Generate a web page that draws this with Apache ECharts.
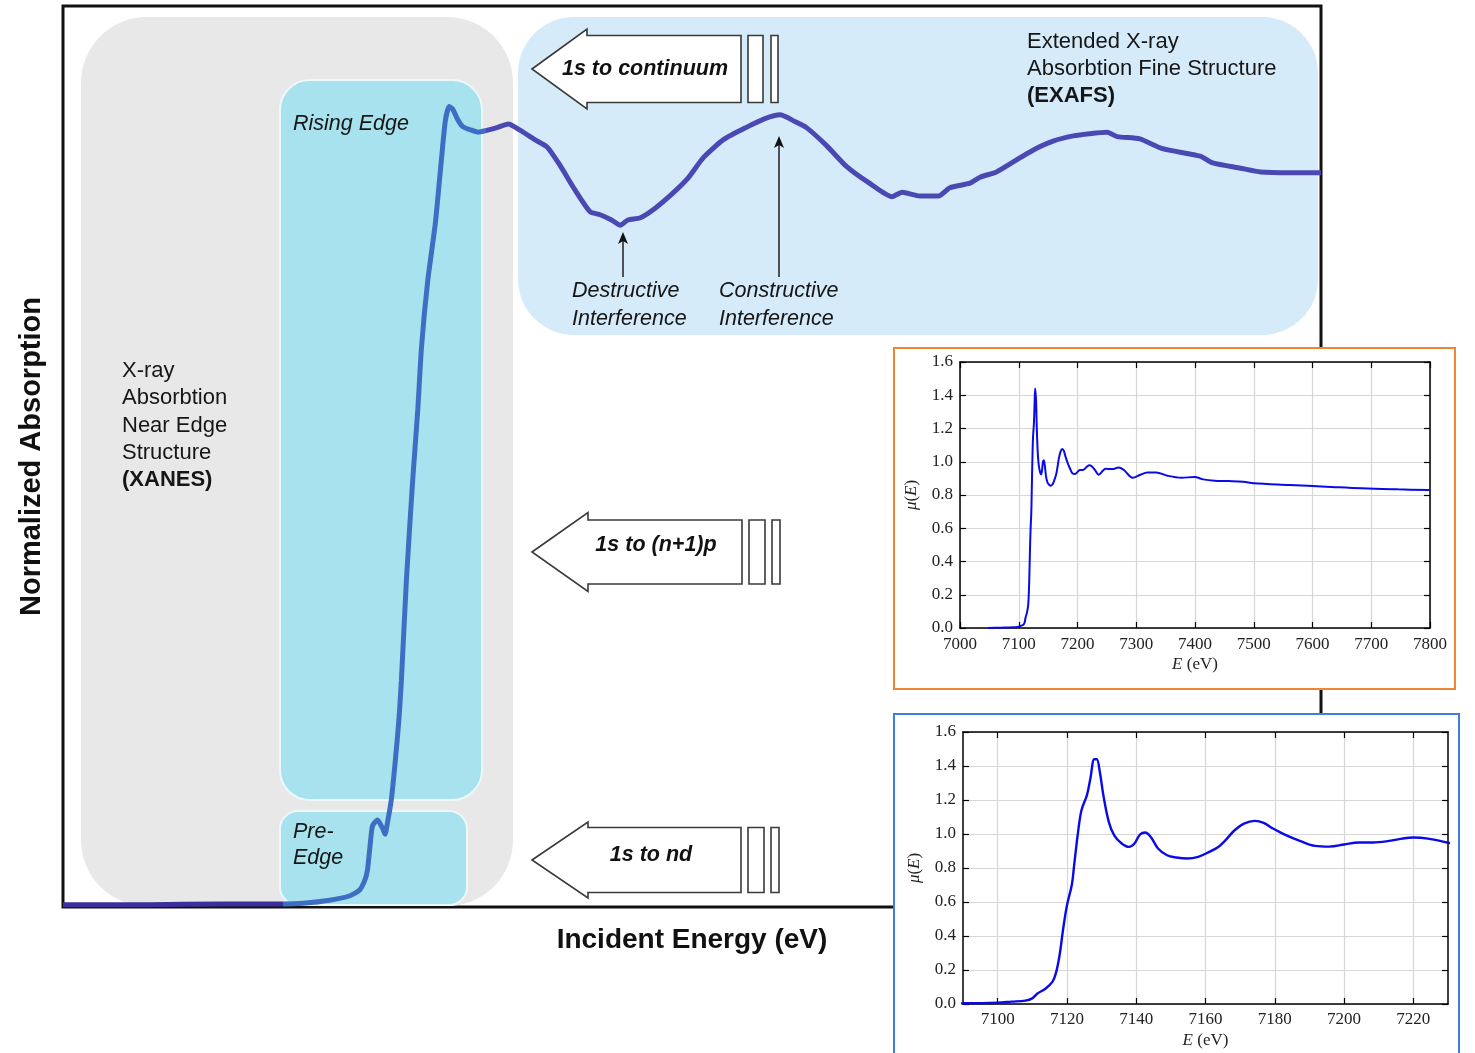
<!DOCTYPE html>
<html>
<head>
<meta charset="utf-8">
<title>X-ray Absorption Spectrum</title>
<script src="https://cdn.jsdelivr.net/npm/echarts@6/dist/echarts.min.js"></script>
<style>
  html, body { margin: 0; padding: 0; background: #ffffff; }
  #chart { width: 1475px; height: 1053px; }
</style>
</head>
<body>
<div id="chart"></div>
<script>
// ---- Schematic absorption curve (relative energy 0..100, normalized absorption) ----
const mainEnergy = [0, 6.9, 12.5, 17.5, 19.1, 21.2, 22.8, 23.6, 24.0, 24.2, 24.4, 24.6, 25.0, 25.4, 25.6, 25.8,
  26.1, 26.4, 26.7, 26.9, 27.3, 27.8, 28.2, 28.5, 29.0, 29.6, 30.1, 30.4, 30.7, 31.0, 31.4, 31.8, 32.4, 33.0,
  33.6, 34.5, 35.4, 36.3, 37.5, 38.5, 39.5, 40.7, 41.9, 42.7, 43.6, 44.3, 44.9, 45.9, 47.1, 48.5, 49.7, 50.9,
  52.5, 54.4, 55.8, 57.0, 58.2, 59.1, 60.7, 62.3, 64.1, 65.9, 66.7, 68.1, 69.6, 70.5, 72.1, 72.9, 74.2, 75.5,
  77.1, 78.7, 80.3, 81.6, 83.0, 83.8, 85.6, 87.4, 90.4, 91.4, 93.6, 95.2, 97.5, 100];
const mainAbsorption = [0.003, 0.003, 0.004, 0.004, 0.005, 0.009, 0.015, 0.023, 0.036, 0.049, 0.080, 0.108,
  0.116, 0.105, 0.097, 0.113, 0.143, 0.192, 0.249, 0.302, 0.436, 0.569, 0.662, 0.746, 0.835, 0.911, 0.999,
  1.048, 1.066, 1.062, 1.048, 1.039, 1.035, 1.032, 1.034, 1.038, 1.043, 1.035, 1.022, 1.012, 0.988, 0.955,
  0.926, 0.922, 0.915, 0.908, 0.915, 0.918, 0.931, 0.951, 0.971, 0.998, 1.022, 1.039, 1.050, 1.055, 1.046,
  1.038, 1.014, 0.986, 0.964, 0.946, 0.952, 0.947, 0.947, 0.958, 0.964, 0.972, 0.979, 0.992, 1.008, 1.020,
  1.027, 1.030, 1.032, 1.026, 1.023, 1.010, 1.000, 0.991, 0.984, 0.979, 0.978, 0.978];

// ---- Measured Fe K-edge spectrum, E (eV) and mu(E) ----
const specEnergy = [7047, 7070, 7090, 7100, 7104, 7108, 7110, 7111.6, 7113.7, 7115.8, 7116.8, 7117.9, 7118.9,
  7120, 7121.4, 7122.1, 7123.2, 7124.2, 7125.8, 7126.8, 7127.9, 7128.6, 7129.5, 7130.5, 7132.1, 7133.7,
  7135.8, 7137.9, 7139.5, 7141.1, 7142.6, 7144.2, 7146.3, 7148.9, 7151.6, 7154.7, 7157.9, 7161.1, 7163.7,
  7165.8, 7168.4, 7171.1, 7174.2, 7176.8, 7179.5, 7183.2, 7187.4, 7191.6, 7195.8, 7200, 7204.2, 7208.4,
  7212.6, 7216.8, 7220, 7224.2, 7229.8, 7236, 7248, 7261, 7270, 7279, 7294, 7307, 7319, 7334, 7353, 7377,
  7399, 7414, 7433, 7457, 7482, 7500, 7561, 7623, 7684, 7745, 7800];
const specMu = [0.0, 0.002, 0.004, 0.008, 0.014, 0.020, 0.033, 0.063, 0.088, 0.130, 0.180, 0.290, 0.440,
  0.580, 0.700, 0.820, 1.010, 1.140, 1.230, 1.330, 1.440, 1.440, 1.365, 1.230, 1.070, 0.990, 0.944, 0.924,
  0.944, 0.997, 1.009, 0.983, 0.915, 0.875, 0.862, 0.856, 0.866, 0.895, 0.924, 0.964, 1.022, 1.061, 1.077,
  1.065, 1.032, 0.993, 0.958, 0.930, 0.926, 0.938, 0.950, 0.950, 0.958, 0.973, 0.979, 0.973, 0.950, 0.922,
  0.958, 0.956, 0.966, 0.950, 0.904, 0.922, 0.936, 0.936, 0.916, 0.904, 0.908, 0.894, 0.886, 0.884, 0.880,
  0.870, 0.860, 0.850, 0.840, 0.834, 0.830];

// ---- Tick values ----
const edgeTicks = [7100, 7120, 7140, 7160, 7180, 7200, 7220];

const SANS = '"Liberation Sans", Arial, Helvetica, sans-serif';
const SERIF = '"Liberation Serif", "DejaVu Serif", "Times New Roman", serif';

const chart = echarts.init(document.getElementById('chart'), null, { renderer: 'canvas' });

const mainCurve = mainEnergy.map((x, i) => [x, mainAbsorption[i]]);
const spectrum = specEnergy.map((e, i) => [e, specMu[i]]);

// ---- Decorations: region panels, labels and transition arrows ----
function label(x, y, text, font, align) {
  return { type: 'text', z: 5, style: { x, y, text, font, fill: '#161616', textAlign: align || 'left', textVerticalAlign: 'middle' } };
}
function blockArrow(tipX, tipY, headX, headHalf, shaftHalf, right, r1, r2, text, textX, textY) {
  const stroke = '#3a3a3a';
  return [
    { type: 'polygon', z: 4, shape: { points: [[tipX, tipY], [headX, tipY - headHalf], [headX, tipY - shaftHalf],
        [right, tipY - shaftHalf], [right, tipY + shaftHalf], [headX, tipY + shaftHalf], [headX, tipY + headHalf]] },
      style: { fill: '#ffffff', stroke, lineWidth: 1.6 } },
    { type: 'rect', z: 4, shape: { x: r1[0], y: tipY - shaftHalf, width: r1[1] - r1[0], height: shaftHalf * 2 },
      style: { fill: '#ffffff', stroke, lineWidth: 1.6 } },
    { type: 'rect', z: 4, shape: { x: r2[0], y: tipY - shaftHalf, width: r2[1] - r2[0], height: shaftHalf * 2 },
      style: { fill: '#ffffff', stroke, lineWidth: 1.6 } },
    { type: 'text', z: 5, style: { x: textX, y: textY, text, font: 'italic bold 21.5px ' + SANS, fill: '#111',
        textAlign: 'center', textVerticalAlign: 'middle' } }
  ];
}
function pointer(x, yTail, yTip) {
  return [
    { type: 'line', z: 4, shape: { x1: x, y1: yTail, x2: x, y2: yTip + 8 }, style: { stroke: '#111', lineWidth: 1.4 } },
    { type: 'polygon', z: 4, shape: { points: [[x - 5, yTip + 12], [x, yTip], [x + 5, yTip + 12], [x, yTip + 9]] },
      style: { fill: '#111' } }
  ];
}

const italic = 'italic 21.5px ' + SANS;
const plain = '22px ' + SANS;
const bold = 'bold 22px ' + SANS;

const graphics = [
  // region panels
  { type: 'rect', z: 1, shape: { x: 81, y: 17, width: 432, height: 889, r: 66 }, style: { fill: '#e8e8e8' } },
  { type: 'rect', z: 1, shape: { x: 518, y: 17, width: 800, height: 318, r: 56 }, style: { fill: '#d5ebf9' } },
  { type: 'rect', z: 1, shape: { x: 280, y: 80, width: 202, height: 720, r: 30 },
    style: { fill: '#a7e2ee', stroke: '#eef8fb', lineWidth: 2 } },
  { type: 'rect', z: 1, shape: { x: 280, y: 811, width: 187, height: 94, r: 18 },
    style: { fill: '#a7e2ee', stroke: '#eef8fb', lineWidth: 2 } },
  // region labels
  label(122, 371, 'X-ray', plain), label(122, 398, 'Absorbtion', plain), label(122, 426, 'Near Edge', plain),
  label(122, 453, 'Structure', plain), label(122, 480, '(XANES)', bold),
  label(1027, 42, 'Extended X-ray', plain), label(1027, 69, 'Absorbtion Fine Structure', plain),
  label(1027, 96, '(EXAFS)', bold),
  label(293, 124, 'Rising Edge', italic),
  label(293, 832, 'Pre-', italic), label(293, 858, 'Edge', italic),
  label(572, 291, 'Destructive', italic), label(572, 319, 'Interference', italic),
  label(719, 291, 'Constructive', italic), label(719, 319, 'Interference', italic),
  ...pointer(623, 277, 232),
  ...pointer(779, 277, 136),
  ...blockArrow(532, 69, 587, 40, 33.5, 741, [748, 763], [771, 778], '1s to continuum', 645, 69),
  ...blockArrow(532, 552, 588, 39.5, 32, 742, [749, 765], [772, 780], '1s to (n+1)p', 656, 545),
  ...blockArrow(532, 860, 588, 38, 32.5, 741, [748, 764], [771, 779], '1s to nd', 651, 855),
  // inset frames
  { type: 'rect', z: 20, shape: { x: 894, y: 348, width: 561, height: 341 },
    style: { fill: '#ffffff', stroke: '#ef8434', lineWidth: 2 } },
  { type: 'rect', z: 20, shape: { x: 894, y: 714, width: 565, height: 350 },
    style: { fill: '#ffffff', stroke: '#3f7fd6', lineWidth: 2 } }
];

// ---- Inset axis styling ----
const insetLabel = { fontFamily: SERIF, fontSize: 17, color: '#222', margin: 8, formatter: v => String(v) };
const insetLine = { show: true, onZero: false, lineStyle: { color: '#000', width: 1.5 } };
const insetTick = { show: true, inside: true, length: 6, lineStyle: { color: '#000', width: 1.2 } };
const insetSplit = { show: true, lineStyle: { color: '#d7d7d7', width: 1.2 } };
const nameRich = { i: { fontFamily: SERIF, fontStyle: 'italic', fontSize: 17, color: '#222' } };
const nameStyle = { fontFamily: SERIF, fontSize: 17, color: '#222', rich: nameRich };

function insetX(grid, min, max, opts, top) {
  return Object.assign({
    type: 'value', gridIndex: grid, min, max, z: 22,
    position: top ? 'top' : 'bottom',
    axisLine: insetLine, axisTick: insetTick,
    splitLine: top ? { show: false } : insetSplit,
    axisLabel: top ? { show: false } : Object.assign({ showMinLabel: true, showMaxLabel: true }, insetLabel)
  }, opts || {});
}
function insetY(grid, right) {
  return {
    type: 'value', gridIndex: grid, min: 0, max: 1.6, interval: 0.2, z: 22,
    position: right ? 'right' : 'left',
    axisLine: insetLine, axisTick: insetTick,
    splitLine: right ? { show: false } : insetSplit,
    axisLabel: right ? { show: false } : Object.assign({}, insetLabel, { margin: 7, formatter: v => v.toFixed(1) }),
    name: right ? '' : '{i|μ}({i|E})', nameLocation: 'middle', nameRotate: 90, nameGap: 40, nameTextStyle: nameStyle
  };
}

const option = {
  backgroundColor: '#ffffff',
  animation: false,
  graphic: { elements: graphics },
  grid: [
    { left: 63, top: 6, right: 154, bottom: 146, show: true, borderColor: '#111', borderWidth: 3, backgroundColor: 'transparent', z: 0 },
    { left: 960, top: 362, right: 45, bottom: 425, z: 21 },
    { left: 963, top: 732, right: 27, bottom: 49, z: 21 }
  ],
  xAxis: [
    { type: 'value', gridIndex: 0, min: 0, max: 100, axisLine: { show: false }, axisTick: { show: false },
      axisLabel: { show: false }, splitLine: { show: false },
      name: 'Incident Energy (eV)', nameLocation: 'middle', nameGap: 19,
      nameTextStyle: { fontFamily: SANS, fontSize: 28, fontWeight: 'bold', color: '#111' } },
    insetX(1, 7000, 7800, { interval: 100, name: '{i|E} (eV)', nameLocation: 'middle', nameGap: 28, nameTextStyle: nameStyle }),
    insetX(1, 7000, 7800, { interval: 100 }, true),
    insetX(2, 7090, 7230, { name: '{i|E} (eV)', nameLocation: 'middle', nameGap: 28, nameTextStyle: nameStyle,
      axisTick: Object.assign({ customValues: edgeTicks }, insetTick),
      axisLabel: Object.assign({ customValues: edgeTicks }, insetLabel, { margin: 7 }) }),
    insetX(2, 7090, 7230, { axisTick: Object.assign({ customValues: edgeTicks }, insetTick) }, true)
  ],
  yAxis: [
    { type: 'value', gridIndex: 0, min: 0, max: 1.2, axisLine: { show: false }, axisTick: { show: false },
      axisLabel: { show: false }, splitLine: { show: false },
      name: 'Normalized Absorption', nameLocation: 'middle', nameRotate: 90, nameGap: 17,
      nameTextStyle: { fontFamily: SANS, fontSize: 29, fontWeight: 'bold', color: '#111' } },
    insetY(1, false), insetY(1, true),
    insetY(2, false), insetY(2, true)
  ],
  visualMap: [{
    type: 'piecewise', show: false, seriesIndex: 0, dimension: 0,
    pieces: [
      { lt: 17.5, color: '#3a2f9c' },
      { gte: 17.5, lt: 33.6, color: '#3d6ec4' },
      { gte: 33.6, color: '#4a49b4' }
    ]
  }],
  series: [
    { type: 'line', xAxisIndex: 0, yAxisIndex: 0, data: mainCurve, showSymbol: false, smooth: 0.2, z: 2,
      lineStyle: { width: 5 } },
    { type: 'line', xAxisIndex: 1, yAxisIndex: 1, data: spectrum, showSymbol: false, smooth: 0.35, z: 23,
      lineStyle: { width: 2, color: '#0a0ae8' }, itemStyle: { color: '#0a0ae8' } },
    { type: 'line', xAxisIndex: 3, yAxisIndex: 3, data: spectrum, showSymbol: false, smooth: 0.35, z: 23,
      lineStyle: { width: 2.4, color: '#0a0ae8' }, itemStyle: { color: '#0a0ae8' } }
  ]
};

chart.setOption(option);
</script>
</body>
</html>
